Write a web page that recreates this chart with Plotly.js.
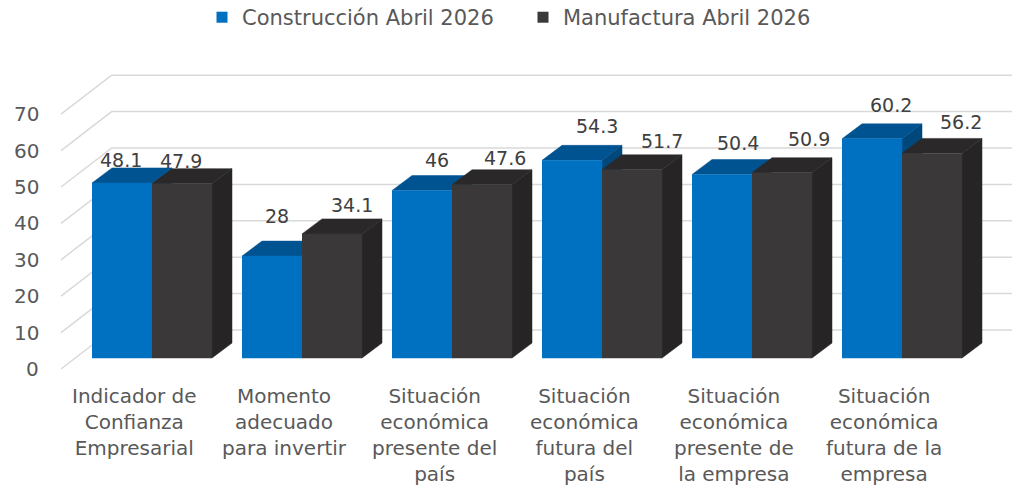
<!DOCTYPE html>
<html>
<head>
<meta charset="utf-8">
<script src="https://cdn.plot.ly/plotly-3.0.1.min.js"></script>
<style>
  html, body { margin: 0; padding: 0; background: #ffffff; }
  #chart { width: 1018px; height: 490px; }
</style>
</head>
<body>
<div id="chart"></div>
<script>
// ---------------- data ----------------
const categories = [
  "Indicador de<br>Confianza<br>Empresarial",
  "Momento<br>adecuado<br>para invertir",
  "Situación<br>económica<br>presente del<br>país",
  "Situación<br>económica<br>futura del<br>país",
  "Situación<br>económica<br>presente de<br>la empresa",
  "Situación<br>económica<br>futura de la<br>empresa"
];
const seriesNames = ["Construcción Abril 2026", "Manufactura Abril 2026"];
const construccion = [48.1, 28, 46, 54.3, 50.4, 60.2];
const manufactura = [47.9, 34.1, 47.6, 51.7, 50.9, 56.2];
const tickValues = [0, 10, 20, 30, 40, 50, 60, 70];

// ---------------- geometry / style ----------------
const W = 1018, H = 490;
const PX_X = 150;          // pixels per category step
const PX_Y = 3.64;         // pixels per value unit
const X0PX = 152;          // pixel x of first category centre (bar front plane)
const Y0PX = 358;          // pixel y of value 0 on bar front plane
const px2x = p => (p - X0PX) / PX_X;
const BAR_W = 0.4;
const DX = 20 / PX_X, DY = 15 / PX_Y;      // bar depth
const FRONT_DY = 11 / PX_Y, BACK_DY = 28 / PX_Y;  // floor front / back wall offsets
const WALL_L_FRONT = px2x(61), WALL_L_BACK = px2x(111.7), WALL_R = px2x(1012);

const FONT = "DejaVu Sans, Montserrat, sans-serif";
const TXT = "#595959";
const colors = {
  c: {front: "#0070C0", top: "#005391", side: "#00477C"},
  m: {front: "#3A3838", top: "#2A2828", side: "#262424"}
};

// ---------------- traces ----------------
const traces = [];

// gridlines (back wall + left wall diagonals)
const gx = [], gy = [];
tickValues.forEach(t => {
  gx.push(WALL_L_FRONT, WALL_L_BACK, WALL_R, null);
  gy.push(t - FRONT_DY, t + BACK_DY, t + BACK_DY, null);
});
traces.push({x: gx, y: gy, type: "scatter", mode: "lines",
  line: {color: "#D9D9D9", width: 1.5}, hoverinfo: "skip", showlegend: false});

function faces(values, offset, col) {
  const side = {x: [], y: []}, top = {x: [], y: []}, front = {x: [], y: []};
  values.forEach((v, i) => {
    const x0 = i + offset, x1 = x0 + BAR_W;
    side.x.push(x1, x1 + DX, x1 + DX, x1, null);
    side.y.push(0, DY, v + DY, v, null);
    top.x.push(x0, x0 + DX, x1 + DX, x1, null);
    top.y.push(v, v + DY, v + DY, v, null);
    front.x.push(x0, x1, x1, x0, null);
    front.y.push(0, 0, v, v, null);
  });
  const mk = (d, c) => ({x: d.x, y: d.y, type: "scatter", mode: "lines",
    fill: "toself", fillcolor: c, line: {color: c, width: 0.5},
    hoverinfo: "skip", showlegend: false});
  return [mk(side, col.side), mk(top, col.top), mk(front, col.front)];
}
traces.push(...faces(construccion, -BAR_W, colors.c));
traces.push(...faces(manufactura, 0, colors.m));

// legend entries
[[seriesNames[0], colors.c.front], [seriesNames[1], colors.m.front]].forEach(([n, c]) => {
  traces.push({x: [null], y: [null], type: "scatter", mode: "markers", name: n,
    marker: {symbol: "square", size: 11, color: c}, hoverinfo: "skip"});
});

// ---------------- annotations ----------------
const annotations = [];
// y tick labels on the front edge
tickValues.forEach(t => annotations.push({
  x: px2x(41), y: t - FRONT_DY, xref: "x", yref: "y", text: String(t),
  showarrow: false, xanchor: "right", yanchor: "middle",
  font: {family: FONT, size: 20, color: TXT}
}));
// category labels
categories.forEach((c, i) => annotations.push({
  x: i, y: 0, xref: "x", yref: "y", text: c, showarrow: false,
  xanchor: "center", yanchor: "top", xshift: -18, yshift: -24, align: "center",
  font: {family: FONT, size: 20, color: TXT}
}));
// data labels
const cShift = [[-1, 23], [5, 40], [15, 31], [25, 34], [16, 32], [19, 34]];
const mShift = [[-1, 23], [20, 29], [23, 27], [30, 29], [27, 34], [29, 31]];
construccion.forEach((v, i) => annotations.push({
  x: i - BAR_W / 2, y: v, xref: "x", yref: "y", text: String(v), showarrow: false,
  xanchor: "center", yanchor: "middle", xshift: cShift[i][0], yshift: cShift[i][1],
  font: {family: FONT, size: 19, color: "#404040"}
}));
manufactura.forEach((v, i) => annotations.push({
  x: i + BAR_W / 2, y: v, xref: "x", yref: "y", text: String(v), showarrow: false,
  xanchor: "center", yanchor: "middle", xshift: mShift[i][0], yshift: mShift[i][1],
  font: {family: FONT, size: 19, color: "#404040"}
}));

const layout = {
  width: W, height: H,
  margin: {l: 0, r: 0, t: 0, b: 0, autoexpand: false},
  paper_bgcolor: "#ffffff", plot_bgcolor: "#ffffff",
  xaxis: {range: [px2x(0), px2x(W)], visible: false, fixedrange: true},
  yaxis: {range: [(Y0PX - H) / PX_Y, Y0PX / PX_Y], visible: false, fixedrange: true},
  showlegend: true,
  legend: {orientation: "h", x: 202 / W, xanchor: "left", y: 1.006, yanchor: "top",
    entrywidth: 276, entrywidthmode: "pixels",
    font: {family: FONT, size: 21, color: TXT}, itemwidth: 30, bgcolor: "rgba(0,0,0,0)"},
  hovermode: false,
  annotations: annotations
};

Plotly.newPlot("chart", traces, layout, {displayModeBar: false, staticPlot: true});
</script>
</body>
</html>
